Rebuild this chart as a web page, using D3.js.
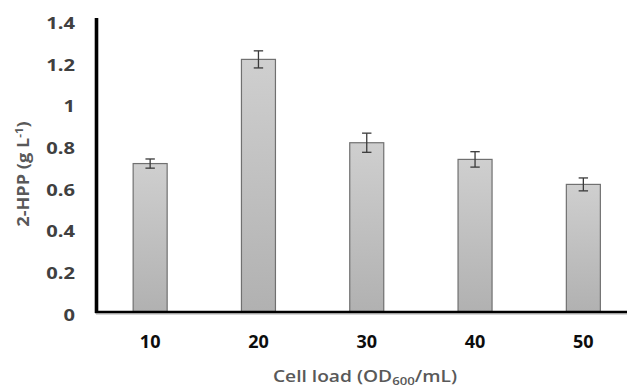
<!DOCTYPE html>
<html>
<head>
<meta charset="utf-8">
<script src="https://cdn.jsdelivr.net/npm/d3@7"></script>
<style>
  body { margin: 0; background: #fff; }
  svg { display: block; }
</style>
</head>
<body>
<div id="chart"></div>
<script>
// values
var cellLoads = ["10", "20", "30", "40", "50"];
var hppValues = [0.71, 1.21, 0.81, 0.73, 0.61];
var hppErrors = [0.022, 0.041, 0.046, 0.037, 0.031];
var yTicks = [0, 0.2, 0.4, 0.6, 0.8, 1, 1.2, 1.4];

var width = 627, height = 388;

var svg = d3.select("#chart")
  .append("svg")
  .attr("width", width)
  .attr("height", height);

var defs = svg.append("defs");
var grad = defs.append("linearGradient")
  .attr("id", "barGrad")
  .attr("x1", 0).attr("y1", 0).attr("x2", 0).attr("y2", 1);
grad.append("stop").attr("offset", "0%").attr("stop-color", "#cfcfcf");
grad.append("stop").attr("offset", "100%").attr("stop-color", "#b1b1b1");

var x = d3.scaleBand()
  .domain(cellLoads)
  .range([96, 96 + 5 * 108.3])
  .paddingInner(0.686)
  .paddingOuter(0.343);

var y = d3.scaleLinear()
  .domain([0, 1.4])
  .range([311.5, 19.8]);

var data = cellLoads.map(function (d, i) {
  return { load: d, value: hppValues[i], err: hppErrors[i] };
});

// bars
svg.selectAll(".bar")
  .data(data)
  .enter()
  .append("rect")
  .attr("class", "bar")
  .attr("x", function (d) { return x(d.load); })
  .attr("y", function (d) { return y(d.value); })
  .attr("width", x.bandwidth())
  .attr("height", function (d) { return y(0) - y(d.value); })
  .attr("fill", "url(#barGrad)")
  .attr("stroke", "#707070")
  .attr("stroke-width", 1.2);

// error bars
var eb = svg.selectAll(".err")
  .data(data)
  .enter()
  .append("g")
  .attr("class", "err")
  .attr("stroke", "#3a3a3a")
  .attr("stroke-width", 1.3);

eb.append("line")
  .attr("x1", function (d) { return x(d.load) + x.bandwidth() / 2; })
  .attr("x2", function (d) { return x(d.load) + x.bandwidth() / 2; })
  .attr("y1", function (d) { return y(d.value + d.err); })
  .attr("y2", function (d) { return y(d.value - d.err); });

[1, -1].forEach(function (s) {
  eb.append("line")
    .attr("x1", function (d) { return x(d.load) + x.bandwidth() / 2 - 4.7; })
    .attr("x2", function (d) { return x(d.load) + x.bandwidth() / 2 + 4.7; })
    .attr("y1", function (d) { return y(d.value + s * d.err); })
    .attr("y2", function (d) { return y(d.value + s * d.err); });
});

// y axis
var yAxis = d3.axisLeft(y).tickValues(yTicks).tickSize(0).tickPadding(0)
  .tickFormat(function (d) { return String(d); });
var gy = svg.append("g")
  .attr("transform", "translate(96.5,0)")
  .call(yAxis);
gy.select(".domain").remove();
gy.append("line")
  .attr("x1", 0).attr("x2", 0)
  .attr("y1", 18).attr("y2", y(0) + 1.5)
  .attr("stroke", "#000")
  .attr("stroke-width", 3.6);
gy.selectAll(".tick text")
  .attr("x", 0)
  .attr("dy", "0.32em")
  .attr("transform", "translate(-21.5,3.5) scale(1.22,1)")
  .attr("fill", "#404040")
  .style("font-family", "'Open Sans', sans-serif")
  .style("font-weight", "bold")
  .style("font-size", "16.5px");

// x axis
var xAxis = d3.axisBottom(x).tickSize(0).tickPadding(0);
var gx = svg.append("g")
  .attr("transform", "translate(0," + y(0) + ")")
  .call(xAxis);
gx.select(".domain").remove();
gx.append("line")
  .attr("x1", 96).attr("x2", width)
  .attr("y1", 2.6).attr("y2", 2.6)
  .attr("stroke", "#c8c8c8")
  .attr("stroke-width", 1.5);
gx.append("line")
  .attr("x1", 95).attr("x2", width)
  .attr("y1", 0.5).attr("y2", 0.5)
  .attr("stroke", "#000")
  .attr("stroke-width", 2.6);
gx.selectAll(".tick text")
  .attr("y", 36.5)
  .attr("dy", 0)
  .attr("fill", "#0d0d0d")
  .style("font-family", "'Open Sans', sans-serif")
  .style("font-weight", "bold")
  .style("font-size", "18px");

// axis titles
var xt = svg.append("text")
  .attr("transform", "translate(365,382) scale(1.2,1)")
  .attr("text-anchor", "middle")
  .attr("fill", "#595959")
  .style("font-family", "'Open Sans', sans-serif")
  .style("font-weight", "600")
  .style("font-size", "16px");
xt.append("tspan").text("Cell load (OD");
xt.append("tspan").attr("dy", 3).style("font-size", "11px").text("600");
xt.append("tspan").attr("dy", -3).text("/mL)");

var yt = svg.append("text")
  .attr("transform", "translate(29,174) rotate(-90) scale(1.17,1)")
  .attr("text-anchor", "middle")
  .attr("fill", "#595959")
  .style("font-family", "'Open Sans', sans-serif")
  .style("font-weight", "bold")
  .style("font-size", "15.5px");
yt.append("tspan").text("2-HPP (g L");
yt.append("tspan").attr("dy", -6).style("font-size", "10px").text("-1");
yt.append("tspan").attr("dy", 6).text(")");
</script>
</body>
</html>
